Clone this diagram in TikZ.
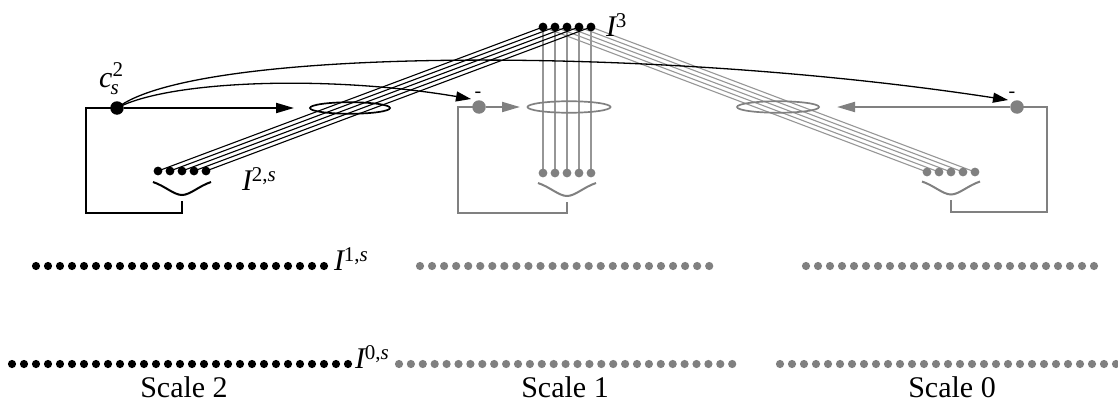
\documentclass[tikz,border=0pt]{standalone}
\usepackage{fontspec}
\setmainfont{Liberation Serif}
\usetikzlibrary{arrows.meta,shapes.geometric,backgrounds}
\definecolor{gdot}{RGB}{128,128,128}
\definecolor{gline}{RGB}{150,150,150}
\newcommand{\supsz}{\fontsize{21}{21}\selectfont}
\newcommand{\Ilab}[1]{\textit{I}\kern-1.5pt\raisebox{9pt}{\supsz #1}}
\begin{document}
\begin{tikzpicture}[x=1pt,y=-1pt,
  bigdot/.style={circle,fill=#1,inner sep=0,minimum size=13.5pt},
  smdot/.style={circle,fill=#1,inner sep=0,minimum size=8.8pt},
  rowdot/.style={circle,fill=#1,inner sep=0,minimum size=8.2pt},
  wire/.style={draw=#1,line width=1.1pt},
  frame/.style={draw=#1,line width=2pt},
  ring/.style 2 args={draw=#1,ellipse,line width=1.7pt,inner sep=0,minimum width=#2,minimum height=11.5pt},
  lab/.style={inner sep=0,anchor=base west,font=\fontsize{30}{30}\selectfont},
  scl/.style={inner sep=0,anchor=base,font=\fontsize{30}{30}\selectfont},
  minus/.style={inner sep=0,font=\fontsize{20}{20}\selectfont},
  smile/.pic={\draw[pic actions] (-29,-13) .. controls (-17,-9) and (-8,0) .. (0,0) .. controls (8,0) and (17,-9) .. (29,-13);}
]
\useasboundingbox (0,0) rectangle (1118,404);

% ---- top layer I^3 ----
\foreach \i in {1,...,5} {
  \node[smdot=black] (t\i) at ({531+12*\i},27) {};
  \node[smdot=black] (b2\i) at ({146+12*\i},171) {};
  \node[smdot=gdot] (b1\i) at ({531+12*\i},173) {};
  \node[smdot=gdot] (b0\i) at ({915+12*\i},172) {};
}
\node[lab] (l3) at (606,37) {\Ilab{3}};
\node[lab] (l2) at (242,190) {\Ilab{2,\textit{s}}};

% ---- control dots ----
\node[bigdot=black] (c2) at (117,108) {};
\node[bigdot=gdot] (g1) at (479,107) {};
\node[bigdot=gdot] (g0) at (1017,107) {};
\node[inner sep=0,anchor=base west,font=\fontsize{30}{30}\selectfont] (lc) at (99,87)
  {\textit{c}\rlap{\kern-2pt\raisebox{-7pt}{\supsz\textit{s}}}\raisebox{10pt}{\supsz 2}};
\node[minus] (m1) at (478,95) {-};
\node[minus] (m0) at (1012,95) {-};

% ---- rings ----
\node[ring={black}{80pt}] (e2) at (350,108) {};
\node[ring={gdot}{83pt}] (e1) at (569,107) {};
\node[ring={gdot}{82pt}] (e0) at (778,107) {};

% ---- wires (under the dots) ----
\begin{scope}[on background layer]
\foreach \i in {1,...,5} {
  \draw[wire=black] (b2\i.center) -- (t\i.center);
  \draw[wire=gline] (t\i.center) -- (b1\i.center);
  \draw[wire=gline] (t\i.center) -- (b0\i.center);
}
\end{scope}

% ---- smiles and frames ----
\coordinate (s2) at (182,195);
\coordinate (s1) at (567,196);
\coordinate (s0) at (951,194.5);
\pic[frame=black] at (s2) {smile};
\pic[frame=gdot] at (s1) {smile};
\pic[frame=gdot] at (s0) {smile};

\coordinate (k2) at (86,213);
\coordinate (f2) at (182,201);
\coordinate (k1) at (458,213);
\coordinate (f1) at (567,202);
\coordinate (k0) at (1047,212);
\coordinate (f0) at (951,200);
\begin{scope}[on background layer]
\draw[frame=black] (c2.center) -| (k2) -| (f2);
\draw[frame=gdot] (g1.center) -| (k1) -| (f1);
\draw[frame=gdot] (g0.center) -| (k0) -| (f0);
\end{scope}

% ---- straight arrows to rings ----
\coordinate (a2) at (294,108);
\coordinate (a1) at (520,107);
\coordinate (a0) at (837,107);
\draw[frame=black,-{Triangle[length=18pt,width=10pt]}] (c2) -- (a2);
\draw[frame=gdot,-{Triangle[length=18pt,width=10pt]}] (g1) -- (a1);
\draw[frame=gdot,-{Triangle[length=18pt,width=10pt]}] (g0) -- (a0);

% ---- curved arrows from c_s^2 ----
\coordinate (h1) at (471,99);
\coordinate (h0) at (1008,100);
\draw[line width=1.3pt,-{Triangle[length=15pt,width=10pt]}] (c2.center) .. controls (170,80) and (330,75) .. (h1);
\draw[line width=1.3pt,-{Triangle[length=15pt,width=10pt]}] (c2.center) .. controls (195,47) and (650,45) .. (h0);

% ---- rows I^1 and I^0 ----
\foreach \i in {0,...,24} {
  \node[rowdot=black] (ra\i) at ({36+12*\i},266) {};
  \node[rowdot=gdot] (rb\i) at ({420+12.05*\i},266) {};
  \node[rowdot=gdot] (rc\i) at ({806+12*\i},266) {};
}
\foreach \i in {0,...,28} {
  \node[rowdot=black] (qa\i) at ({12+12*\i},364) {};
  \node[rowdot=gdot] (qb\i) at ({399+11.9*\i},364) {};
  \node[rowdot=gdot] (qc\i) at ({780+12*\i},364) {};
}
\node[lab] (l1) at (334,270) {\Ilab{1,\textit{s}}};
\node[lab] (l0) at (355,368) {\Ilab{0,\textit{s}}};

% ---- scale captions ----
\node[scl] (sc2) at (184,397) {Scale 2};
\node[scl] (sc1) at (565,397) {Scale 1};
\node[scl] (sc0) at (952,397) {Scale 0};
\end{tikzpicture}
\end{document}
